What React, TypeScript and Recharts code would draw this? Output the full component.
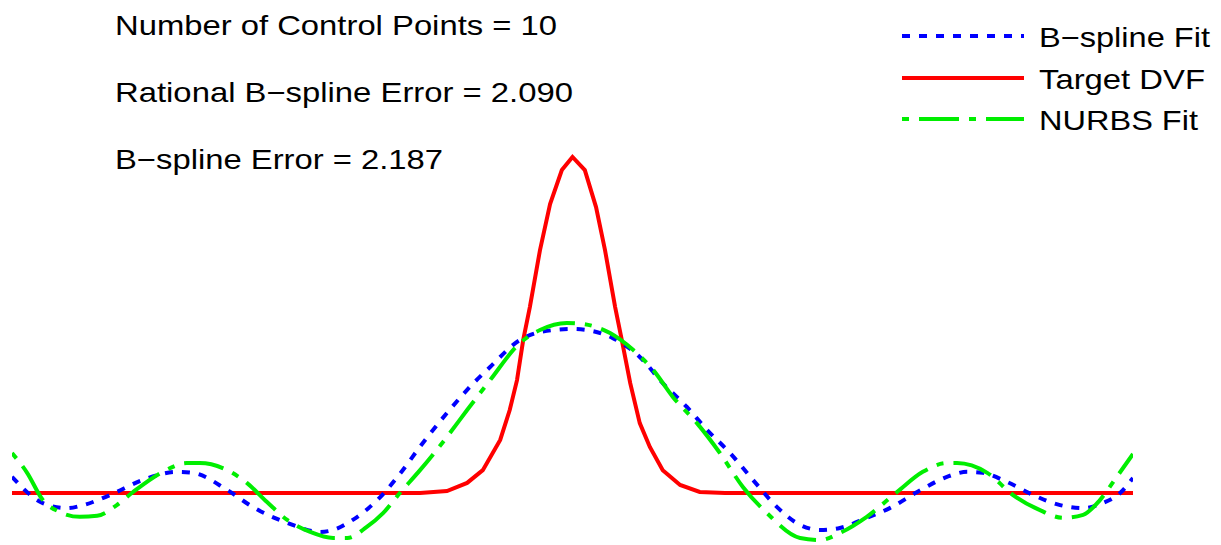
import React from "react";
import { LineChart, Line, XAxis, YAxis, Legend, Customized } from "recharts";

// Target displacement field (normalised position vs. normalised displacement)
const targetX = [
  -1, -0.272, -0.224, -0.188, -0.16, -0.129, -0.112, -0.099, -0.088, -0.076,
  -0.058, -0.04, -0.019, 0, 0.022, 0.042, 0.058, 0.076, 0.088, 0.103, 0.12,
  0.138, 0.161, 0.192, 0.227, 0.272, 1,
];
const targetY = [
  0, 0, 0.006, 0.03, 0.068, 0.158, 0.247, 0.336, 0.455, 0.554, 0.723, 0.86,
  0.961, 1.0, 0.961, 0.851, 0.723, 0.554, 0.455, 0.327, 0.208, 0.137, 0.068,
  0.024, 0.003, 0, 0,
];

// Plain B-spline fit
const bsplineX = [
  -1, -0.945, -0.902, -0.873, -0.825, -0.766, -0.706, -0.677, -0.616, -0.57,
  -0.509, -0.45, -0.427, -0.392, -0.343, -0.308, -0.267, -0.224, -0.188,
  -0.147, -0.094, -0.058, 0, 0.026, 0.072, 0.12, 0.161, 0.204, 0.24, 0.281,
  0.322, 0.365, 0.406, 0.442, 0.477, 0.525, 0.566, 0.615, 0.668, 0.704, 0.732,
  0.775, 0.822, 0.87, 0.911, 0.946, 0.977, 1,
];
const bsplineY = [
  0.048, -0.03, -0.045, -0.036, -0.006, 0.039, 0.063, 0.06, 0.009, -0.042,
  -0.089, -0.116, -0.11, -0.08, -0.012, 0.057, 0.149, 0.238, 0.307, 0.375,
  0.455, 0.479, 0.488, 0.485, 0.461, 0.405, 0.327, 0.256, 0.188, 0.119, 0.039,
  -0.042, -0.095, -0.11, -0.104, -0.074, -0.045, 0.003, 0.048, 0.063, 0.06,
  0.033, -0.006, -0.036, -0.045, -0.03, 0, 0.045,
];

// Rational (NURBS) fit
const nurbsX = [
  -1, -0.973, -0.945, -0.914, -0.879, -0.848, -0.813, -0.784, -0.731, -0.688,
  -0.665, -0.616, -0.581, -0.545, -0.509, -0.468, -0.427, -0.402, -0.367,
  -0.338, -0.308, -0.272, -0.224, -0.188, -0.147, -0.094, -0.058, -0.01, 0.019,
  0.067, 0.108, 0.144, 0.179, 0.222, 0.263, 0.304, 0.347, 0.406, 0.442, 0.477,
  0.525, 0.579, 0.625, 0.668, 0.686, 0.74, 0.786, 0.834, 0.875, 0.911, 0.941,
  0.971, 1,
];
const nurbsY = [
  0.119, 0.06, -0.021, -0.057, -0.071, -0.068, -0.036, 0.003, 0.063, 0.089,
  0.089, 0.068, 0.03, -0.027, -0.08, -0.116, -0.134, -0.134, -0.101, -0.06, 0,
  0.068, 0.167, 0.247, 0.336, 0.446, 0.485, 0.506, 0.503, 0.476, 0.426, 0.366,
  0.286, 0.208, 0.119, 0.018, -0.06, -0.134, -0.14, -0.119, -0.071, 0.003,
  0.063, 0.089, 0.089, 0.06, -0.006, -0.051, -0.074, -0.065, -0.021, 0.048,
  0.116,
];

const annotations = [
  "Number of Control Points = 10",
  "Rational B\u2212spline Error = 2.090",
  "B\u2212spline Error = 2.187",
];

const legendNames = ["B\u2212spline Fit", "Target DVF", "NURBS Fit"];

const zip = (xs: number[], ys: number[]) => xs.map((x, i) => ({ x, y: ys[i] }));

const targetData = zip(targetX, targetY);
const bsplineData = zip(bsplineX, bsplineY);
const nurbsData = zip(nurbsX, nurbsY);

const FONT = '"Liberation Sans", Arial, Helvetica, sans-serif';

const legendStyles = [
  { color: "#0000ff", dash: "8 9" },
  { color: "#ff0000", dash: undefined },
  { color: "#00ee00", dash: "7 10 40 10" },
];
const legendTextWidth = [171, 166, 159];

const FitLegend = () => (
  <svg width={331} height={140}>
    {legendNames.map((name, i) => {
      const y = [36, 78, 119][i];
      return (
        <g key={name}>
          <line
            x1={12}
            x2={134}
            y1={y}
            y2={y}
            stroke={legendStyles[i].color}
            strokeWidth={4}
            strokeDasharray={legendStyles[i].dash}
          />
          <text
            x={149}
            y={y + 11}
            fontFamily={FONT}
            fontSize={28}
            fill="#000"
            textLength={legendTextWidth[i]}
            lengthAdjust="spacingAndGlyphs"
          >
            {name}
          </text>
        </g>
      );
    })}
  </svg>
);

const noteWidth = [442, 458, 328];
const noteBaseline = [35, 102, 169];

const Notes = () => (
  <g>
    {annotations.map((t, i) => (
      <text
        key={t}
        x={115}
        y={noteBaseline[i]}
        fontFamily={FONT}
        fontSize={28}
        fill="#000"
        textLength={noteWidth[i]}
        lengthAdjust="spacingAndGlyphs"
      >
        {t}
      </text>
    ))}
  </g>
);

export default function App() {
  return (
    <div style={{ position: "absolute", left: 0, top: 0, background: "#fff" }}>
      <LineChart
        width={1221}
        height={545}
        margin={{ top: 140.2, right: 88, bottom: 1.6, left: 12 }}
      >
        <XAxis
          type="number"
          dataKey="x"
          domain={[-1, 1]}
          allowDataOverflow
          hide
        />
        <YAxis type="number" domain={[-0.15, 1.05]} allowDataOverflow hide />
        <Line
          data={targetData}
          dataKey="y"
          name="Target DVF"
          type="linear"
          stroke="#ff0000"
          strokeWidth={4}
          dot={false}
          isAnimationActive={false}
        />
        <Line
          data={bsplineData}
          dataKey="y"
          name="B-spline Fit"
          type="monotone"
          stroke="#0000ff"
          strokeWidth={4}
          strokeDasharray="8 9"
          dot={false}
          isAnimationActive={false}
        />
        <Line
          data={nurbsData}
          dataKey="y"
          name="NURBS Fit"
          type="monotone"
          stroke="#00ee00"
          strokeWidth={4}
          strokeDasharray="7 10 40 10"
          dot={false}
          isAnimationActive={false}
        />
        <Legend
          layout="horizontal"
          verticalAlign="middle"
          align="center"
          content={() => <FitLegend />}
          wrapperStyle={{ top: 0, left: 890, width: 331, height: 140 }}
        />
        <Customized component={Notes} />
      </LineChart>
    </div>
  );
}
